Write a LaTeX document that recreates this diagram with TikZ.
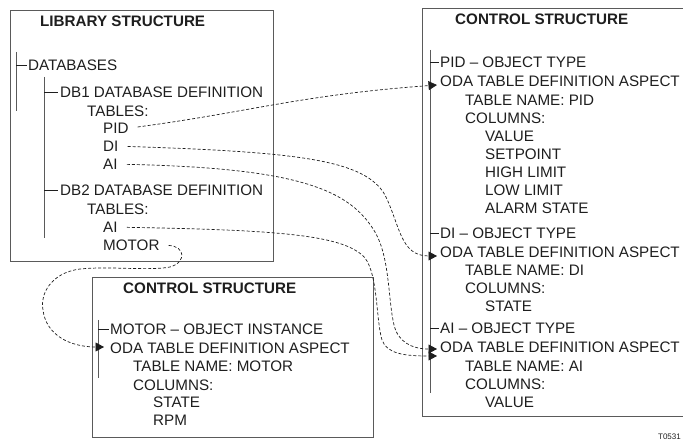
\documentclass[tikz,border=0pt]{standalone}
\usepackage{fontspec}
\setmainfont{Liberation Sans}
\usetikzlibrary{arrows.meta}
\definecolor{ink}{HTML}{1E1E1E}
\definecolor{frame}{HTML}{5A5A5A}
\tikzset{
  txt/.style={anchor=base west, inner sep=0pt, yshift=-5.4pt, text=ink,
    font=\fontsize{15.2}{18}\selectfont},
  ttl/.style={txt, font=\fontsize{15.2}{18}\selectfont\bfseries},
  boxline/.style={draw=frame, line width=0.9pt},
  treeline/.style={draw=frame, line width=1pt},
  tickline/.style={draw=ink, line width=0.7pt},
  conn/.style={draw=ink, line width=0.7pt, dash pattern=on 3pt off 2pt,
    -{Triangle[length=8.5pt,width=9pt]}},
  conntail/.style={shorten <=9pt}
}
\begin{document}
\begin{tikzpicture}[x=1pt,y=-1pt]
\useasboundingbox (0,0) rectangle (683,443);

% ---------- Library structure ----------
\draw[boxline] (10,10) rectangle (273,261);
\node[ttl] (libt) at (40,21) {LIBRARY STRUCTURE};
\draw[treeline] (16,52) -- (16,111);
\draw[treeline] (44,77) -- (44,238);
\node[txt] (dbs) at (28,65) {DATABASES};
\node[txt] (db1) at (60,92) {DB1 DATABASE DEFINITION};
\node[txt] (tb1) at (87,111) {TABLES:};
\node[txt] (pid) at (103,128) {PID};
\node[txt] (di) at (103,146) {DI};
\node[txt] (ai1) at (103,164) {AI};
\node[txt] (db2) at (60,190) {DB2 DATABASE DEFINITION};
\node[txt] (tb2) at (87,209) {TABLES:};
\node[txt] (ai2) at (103,227) {AI};
\node[txt] (mot) at (103,245) {MOTOR};
\draw[tickline] ([xshift=-12pt]dbs.west) -- ([xshift=-1pt]dbs.west);
\draw[tickline] ([xshift=-16pt]db1.west) -- ([xshift=-2pt]db1.west);
\draw[tickline] ([xshift=-16pt]db2.west) -- ([xshift=-2pt]db2.west);

% ---------- Right control structure ----------
\draw[boxline] (422,8) rectangle (700,416);
\node[ttl] (rt) at (455,19) {CONTROL STRUCTURE};
\draw[treeline] (430,50) -- (430,393);
\node[txt] (rp1) at (440,62) {PID – OBJECT TYPE};
\node[txt] (ro1) at (440,81) {ODA TABLE DEFINITION ASPECT};
\node[txt] (rn1) at (465,100) {TABLE NAME: PID};
\node[txt] (rc1) at (465,118) {COLUMNS:};
\node[txt] (rv1) at (485,136) {VALUE};
\node[txt] (rs1) at (485,154) {SETPOINT};
\node[txt] (rh1) at (485,172) {HIGH LIMIT};
\node[txt] (rl1) at (485,190) {LOW LIMIT};
\node[txt] (ra1) at (485,208) {ALARM STATE};
\node[txt] (rp2) at (440,233) {DI – OBJECT TYPE};
\node[txt] (ro2) at (440,252) {ODA TABLE DEFINITION ASPECT};
\node[txt] (rn2) at (465,270) {TABLE NAME: DI};
\node[txt] (rc2) at (465,288) {COLUMNS:};
\node[txt] (rs2) at (485,306) {STATE};
\node[txt] (rp3) at (440,328) {AI – OBJECT TYPE};
\node[txt] (ro3) at (440,347) {ODA TABLE DEFINITION ASPECT};
\node[txt] (rn3) at (465,366) {TABLE NAME: AI};
\node[txt] (rc3) at (465,384) {COLUMNS:};
\node[txt] (rv3) at (485,402) {VALUE};
\draw[tickline] ([xshift=-10pt]rp1.west) -- ([xshift=-1pt]rp1.west);
\draw[tickline] ([xshift=-10pt]rp2.west) -- ([xshift=-1pt]rp2.west);
\draw[tickline] ([xshift=-10pt]rp3.west) -- ([xshift=-1pt]rp3.west);

% ---------- Bottom control structure ----------
\draw[boxline] (92,277) rectangle (373,437);
\node[ttl] (bt) at (123,288) {CONTROL STRUCTURE};
\draw[treeline] (98,320) -- (98,378);
\node[txt] (bm) at (110,329) {MOTOR – OBJECT INSTANCE};
\node[txt] (bo) at (110,348) {ODA TABLE DEFINITION ASPECT};
\node[txt] (bn) at (133,366) {TABLE NAME: MOTOR};
\node[txt] (bc) at (133,385) {COLUMNS:};
\node[txt] (bs) at (153,402) {STATE};
\node[txt] (br) at (153,420) {RPM};
\draw[tickline] ([xshift=-12pt]bm.west) -- ([xshift=-1pt]bm.west);

% ---------- figure tag ----------
\node[anchor=base east, inner sep=0pt, text=ink, font=\fontsize{8}{9}\selectfont] (tag) at (681,440) {T0531};

% ---------- arrow targets ----------
\coordinate (inpid) at (437,85);
\coordinate (indi) at (437,256);
\coordinate (inai1) at (437,349);
\coordinate (inai2) at (437,356);
\coordinate (inmot) at (104,347);

% ---------- dashed connectors ----------
\draw[conn,conntail] (pid.east) .. controls (250,112) and (300,95) .. (inpid);
\draw[conn,conntail] (di.east) .. controls (300,152) and (365,160) .. (385,195)
   .. controls (400,225) and (400,256) .. (indi);
\draw[conn,conntail] (ai1.east) .. controls (300,168) and (350,190) .. (375,232)
   .. controls (390,258) and (388,300) .. (394,325)
   .. controls (398,342) and (412,349) .. (inai1);
\draw[conn,conntail] (ai2.east) .. controls (280,230) and (345,235) .. (365,258)
   .. controls (378,275) and (376,320) .. (382,340)
   .. controls (387,354) and (405,356) .. (inai2);
\draw[conn,conntail] (mot.east) .. controls (185,246) and (187,262) .. (170,267)
   .. controls (150,271) and (110,266) .. (80,269)
   .. controls (50,273) and (40,295) .. (43,310)
   .. controls (46,335) and (70,347) .. (inmot);
\end{tikzpicture}
\end{document}
